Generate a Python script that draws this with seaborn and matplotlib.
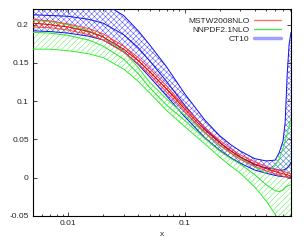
import numpy as np
import pandas as pd
import matplotlib
matplotlib.use("Agg")
import matplotlib.pyplot as plt
from matplotlib.lines import Line2D
from matplotlib.ticker import FuncFormatter, LogLocator, NullFormatter
import seaborn as sns

# x grid
x = [0.005, 0.007, 0.01, 0.015, 0.02, 0.03, 0.04, 0.05, 0.07, 0.1, 0.15, 0.2,
     0.25, 0.3, 0.4, 0.5, 0.6, 0.65, 0.7, 0.73, 0.76, 0.79, 0.82]

# MSTW2008NLO (red)
mstw_c = [0.202, 0.200, 0.197, 0.191, 0.184, 0.168, 0.153, 0.139, 0.116, 0.090, 0.062, 0.046,
          0.035, 0.027, 0.018, 0.012, 0.008, 0.0065, 0.005, 0.0045, 0.004, 0.003, 0.002]
mstw_lo = [0.197, 0.196, 0.193, 0.187, 0.180, 0.164, 0.149, 0.135, 0.112, 0.087, 0.059, 0.043,
           0.032, 0.024, 0.015, 0.009, 0.005, 0.0035, 0.002, 0.0015, 0.001, 0.0, -0.001]
mstw_hi = [0.207, 0.205, 0.201, 0.195, 0.188, 0.172, 0.157, 0.143, 0.120, 0.093, 0.065, 0.049,
           0.038, 0.030, 0.021, 0.015, 0.011, 0.0095, 0.008, 0.0075, 0.007, 0.006, 0.005]

# NNPDF2.1NLO (green)
nnpdf_c = [0.190, 0.189, 0.186, 0.180, 0.172, 0.155, 0.136, 0.118, 0.095, 0.075, 0.051, 0.035,
           0.025, 0.018, 0.004, -0.009, -0.017, -0.018, -0.016, -0.013, -0.011, -0.010, -0.009]
nnpdf_lo = [0.168, 0.168, 0.166, 0.162, 0.157, 0.142, 0.126, 0.111, 0.088, 0.067, 0.044, 0.027,
            0.015, 0.006, -0.012, -0.030, -0.048, -0.056, -0.064, -0.069, -0.073, -0.077, -0.081]
nnpdf_hi = [0.206, 0.204, 0.200, 0.192, 0.184, 0.165, 0.144, 0.125, 0.103, 0.082, 0.058, 0.042,
            0.032, 0.026, 0.014, 0.006, 0.016, 0.025, 0.038, 0.048, 0.058, 0.068, 0.078]

# CT10 (blue)
ct10_c = [0.213, 0.212, 0.211, 0.207, 0.202, 0.187, 0.170, 0.153, 0.126, 0.095, 0.064, 0.046,
          0.035, 0.027, 0.017, 0.013, 0.011, 0.010, 0.010, 0.011, 0.013, 0.016, 0.020]
ct10_lo = [0.192, 0.191, 0.189, 0.185, 0.180, 0.165, 0.148, 0.132, 0.107, 0.080, 0.052, 0.036,
           0.026, 0.019, 0.010, 0.006, 0.003, 0.002, 0.0015, 0.001, 0.001, 0.0005, 0.0]
ct10_hi = [0.232, 0.232, 0.232, 0.231, 0.228, 0.212, 0.192, 0.174, 0.145, 0.110, 0.075, 0.055,
           0.043, 0.035, 0.025, 0.022, 0.023, 0.033, 0.048, 0.072, 0.135, 0.175, 0.190]

labels = ["MSTW2008NLO", "NNPDF2.1NLO", "CT10"]

sns.set_style("ticks")
plt.rcParams["font.family"] = ["Liberation Sans", "DejaVu Sans"]
plt.rcParams["axes.unicode_minus"] = False
plt.rcParams["hatch.linewidth"] = 0.35

fig = plt.figure(figsize=(3.04, 2.40), dpi=100)
ax = fig.add_axes([0.1086, 0.1, 0.8487, 0.8625])

# bands
ax.fill_between(x, ct10_lo, ct10_hi, facecolor="none", edgecolor="#4c4cff",
                linewidth=0, hatch="xxxxxx", zorder=1)
ax.fill_between(x, nnpdf_lo, nnpdf_hi, facecolor="none", edgecolor="#55ee55",
                linewidth=0, hatch="//////", zorder=2)
ax.fill_between(x, mstw_lo, mstw_hi, facecolor="none", edgecolor="#ff3030",
                linewidth=0, hatch="xxxxxx", zorder=3)

# edge and central lines
for ys, col in [(ct10_lo, "#1010ee"), (ct10_hi, "#1010ee"), (ct10_c, "#1010dd"),
                (nnpdf_lo, "#33ee33"), (nnpdf_hi, "#33ee33"), (nnpdf_c, "#33dd33"),
                (mstw_lo, "#ff4040"), (mstw_hi, "#ff4040"), (mstw_c, "#ee0000")]:
    sns.lineplot(x=x, y=ys, color=col, linewidth=0.7, ax=ax, zorder=4)

ax.set_xscale("log")
ax.set_xlim(0.005, 0.82)
ax.set_ylim(-0.05, 0.2205)

ax.set_xticks([0.01, 0.1])
ax.xaxis.set_major_formatter(FuncFormatter(lambda v, p: f"{v:g}"))
ax.xaxis.set_minor_locator(LogLocator(base=10, subs=np.arange(2, 10)))
ax.xaxis.set_minor_formatter(NullFormatter())
ax.set_yticks([-0.05, 0, 0.05, 0.1, 0.15, 0.2])
ax.yaxis.set_major_formatter(FuncFormatter(lambda v, p: f"{v:g}"))

ax.tick_params(axis="both", which="both", direction="in", top=True, right=True,
               labelsize=6, width=0.6, pad=3)
ax.tick_params(which="major", length=3)
ax.tick_params(which="minor", length=1.5)
for s in ax.spines.values():
    s.set_linewidth(0.8)
    s.set_color("black")

ax.set_xlabel("x", fontsize=6, labelpad=3)
ax.set_ylabel("")

handles = [Line2D([], [], color="#ff7070", lw=1.0),
           Line2D([], [], color="#55dd55", lw=1.0),
           Line2D([], [], color="#a0a0ff", lw=2.5)]
ax.legend(handles, labels, loc="upper right", bbox_to_anchor=(0.98, 0.985),
          frameon=False, fontsize=6, markerfirst=False, handlelength=3.2,
          handletextpad=0.6, labelspacing=0.15, borderaxespad=0.2)

fig.savefig("out.png", dpi=100)
